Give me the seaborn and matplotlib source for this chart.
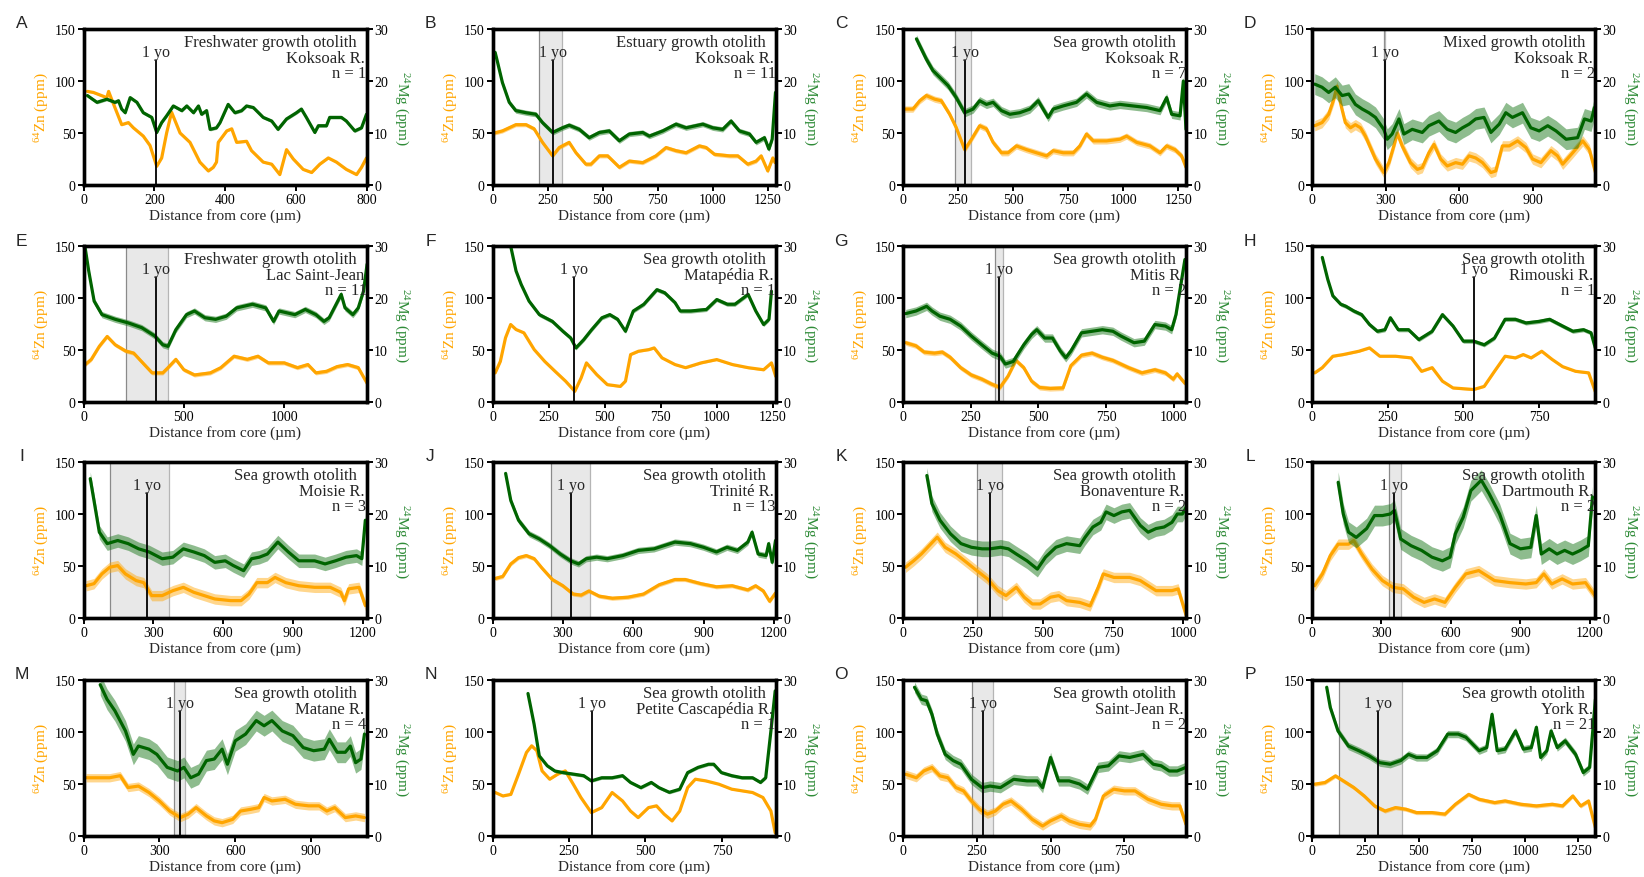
import matplotlib
matplotlib.use("Agg")
import matplotlib.pyplot as plt
import seaborn as sns

sns.set_theme(style="ticks")
plt.rcParams["font.family"] = ["Liberation Serif", "DejaVu Serif"]
plt.rcParams["mathtext.fontset"] = "custom"
plt.rcParams["mathtext.rm"] = "Liberation Serif"
plt.rcParams["mathtext.it"] = "Liberation Serif:italic"

# ---------------- data ----------------
A_zn_x = [11,28,66,71,80,94,108,127,141,169,188,207,221,235,249,273,301,329,353,367,376,381,405,419,433,461,475,508,532,555,574,593,621,645,668,692,715,743,772,786,800]
A_zn = [90,89,84,90,82,70,58,60,55,47,38,18,26,50,70,50,41,22,13.5,17,22,41,52,54,41,42,33,22,20,10,34,25,15,12,20,26,22,15,10,17,26]
A_mg_x = [11,38,66,89,99,108,118,132,151,169,193,207,221,235,254,278,292,311,325,334,348,358,376,386,409,428,447,461,480,508,532,550,574,602,616,630,654,664,687,696,729,743,767,786,800]
A_mg = [17.2,15.9,16.5,15.9,16.2,14.6,13.9,16.8,15.9,13.9,13.0,10.1,12.0,13.3,15.2,14.3,15.2,13.9,15.2,13.6,14.3,10.7,11.0,12.0,15.5,13.9,14.3,15.2,14.9,13.0,12.3,10.7,12.7,13.9,14.6,13.0,10.1,11.4,11.4,13.0,13.0,12.3,10.4,11.0,13.6]

B_zn_x = [8,45,106,152,189,227,273,303,348,379,424,447,485,523,576,621,682,742,788,833,879,939,970,1008,1076,1114,1159,1197,1220,1250,1273,1283]
B_zn = [50,52,58,58,54,41,28,36,41,31,20,20,28,28,17,23,21.5,28,36,33,31,37.6,36,29.5,28,28,20,23,28,13.5,26,21.5]
B_mg_x = [12,23,45,76,106,152,197,227,273,318,348,394,439,485,530,576,621,682,712,773,833,879,955,1000,1045,1083,1121,1167,1197,1235,1255,1270,1285]
B_mg = [25.5,23.6,19.7,15.9,14.3,13.9,13.6,12.0,10.1,11.0,11.5,10.7,9.1,10.1,10.4,8.5,9.8,10.1,9.4,10.4,11.7,11.0,11.7,11.0,10.7,12.3,10.4,9.8,8.2,9.1,6.9,8.8,17.8]

C_zn_x = [8,45,76,106,144,174,212,242,280,311,348,379,409,447,477,515,561,606,652,682,727,773,803,833,864,924,985,1015,1061,1121,1167,1197,1235,1265,1285]
C_zn = [73,73,81,86,82.5,81,68,55,34,44,57,54,41,31,31,37.6,34,31,28,33,31,31,37.6,49,42.4,42.4,44,47,41,37.6,31,37.6,34,28,17]
C_mg_x = [61,76,106,136,167,205,242,280,318,348,379,409,447,485,530,576,614,659,682,727,788,833,879,939,985,1045,1106,1167,1197,1220,1258,1273,1285]
C_mg = [28.1,26.8,24.2,22,20.7,19.1,16.8,13.9,14.6,16.2,15.5,15.9,14.3,13.6,13.9,14.6,16.2,13,14.6,15.2,15.9,17.5,15.9,15.2,15.5,15.2,14.9,14.3,16.8,13.6,13.3,20,10.7]

D_zn_x = [11,41,68,89,102,116,136,157,177,198,218,259,293,314,334,348,368,402,430,450,477,498,525,552,586,614,641,668,696,730,750,777,805,839,873,900,934,975,1002,1023,1064,1105,1132,1157]
D_zn = [57,60,68,82.5,95,79,60,55,58,55,47,25,12,21.5,37.6,50,37.6,21.5,15,16.7,31,39,25,18.3,21.5,20,28,26,21.5,12,13.5,37.6,37.6,42.4,36,25,21.5,33,28,20,31,42.4,34,12]
D_mg_x = [11,41,68,95,123,150,177,205,232,259,293,307,327,355,375,409,450,477,518,552,586,614,641,668,702,730,764,791,818,859,893,927,962,996,1037,1084,1112,1139,1153]
D_mg = [19.4,18.8,17.8,18.8,17.2,17.5,15.5,14.6,13.9,13,10.7,8.8,9.8,12.7,9.8,10.7,10.1,11.4,12.3,10.7,10.1,11,11.7,12.7,13,10.1,11.7,13.9,13,13.9,11,10.4,11.4,10.4,8.8,9.1,12.7,12.3,14.9]

E_zn_x = [8,39,79,118,158,210,250,303,342,395,421,460,500,553,632,684,750,816,869,921,1000,1066,1118,1158,1211,1263,1316,1369,1413]
E_zn = [36,41,53.6,63,55,49,47,36,28,28,33,41,31,26,28,33,44,41,44,37.6,37.6,33,36,28,29.5,34,36,33,18]
E_mg_x = [8,26,53,92,158,224,290,355,395,421,460,513,553,605,658,711,763,842,908,947,974,1053,1105,1158,1198,1224,1284,1303,1342,1369,1395,1413]
E_mg = [29.7,25.2,19.4,16.8,15.9,15.2,14.3,12.7,11,10.7,13.9,16.8,17.5,16.2,15.9,16.5,18.1,18.8,18.1,15.5,17.5,16.8,17.8,16.8,15.5,16.2,20.7,18.1,16.8,18.1,21.3,26.5]

F_zn_x = [12,35,58,81,105,140,186,233,279,326,367,395,419,465,512,570,593,616,651,698,721,756,814,861,930,1000,1070,1140,1209,1244,1263]
F_zn = [28,39,61.7,74.5,69.7,66.5,50.4,39,29.5,20,10.3,23,37.6,26.3,16.7,15,20,45.6,48.8,50.4,52,42.4,36,33,37.6,40.8,36,33,31,37.6,24.7]
F_mg_x = [75,81,105,128,163,209,267,314,349,372,407,442,488,523,558,593,628,675,733,768,814,837,884,954,1000,1047,1081,1140,1174,1209,1233,1244]
F_mg = [31,30,25.2,22.6,19.4,16.8,15.5,13.6,12.3,10.4,12,13.9,16.2,16.8,15.9,13.6,17.5,18.8,21.6,21,19.1,17.5,17.5,17.8,19.7,18.8,18.8,20.7,17.5,14.9,15.9,21.3]

G_zn_x = [10,48,78,116,145,174,213,252,291,329,358,388,417,446,475,504,543,591,620,659,698,736,775,833,882,930,969,998,1012,1041]
G_zn = [57,54,48,47,48,43,33,26,22,17,14,25,40,33,20,14,13,13.5,35,45,47,43,40,33,28,31,28,22,27,18]
G_mg_x = [10,48,87,107,136,174,213,252,291,329,358,378,407,446,475,494,523,552,581,601,620,659,698,736,775,804,853,891,930,969,992,1008,1041]
G_mg = [17,17.5,18.4,17.5,16.5,15.9,14.6,12.7,11,9.4,8.8,7.3,7.8,11,13,13.9,12.3,12.3,9.8,8.5,9.8,13.3,13.6,13.9,13.6,12.7,11.4,11.7,14.9,14.6,13.9,16.8,27.4]

H_zn_x = [9,34,69,103,155,190,224,276,328,362,397,431,466,534,569,603,638,672,698,724,759,793,828,871,914,936]
H_zn = [28,33,44,45.6,48.8,52,44,44,42.4,29.5,33,20,13.5,12,15,29.5,44,42.4,45.6,42.4,48.8,41,34,29.5,28,10]
H_mg_x = [34,52,69,95,112,138,164,190,216,241,259,285,319,353,397,431,466,500,534,569,603,638,672,707,750,785,828,862,897,922,936]
H_mg = [27.8,23.6,20.4,18.8,18.4,17.5,16.8,14.9,13.6,13.9,16.2,13.9,13.9,12,13.6,16.8,14.6,11.7,11.7,11,12.3,15.9,15.9,15.2,15.5,15.9,14.6,13.6,13.9,13.3,10.4]

I_zn_x = [11,45,79,113,147,180,226,259,293,338,384,429,474,519,564,632,677,711,745,790,823,869,925,993,1060,1105,1121,1139,1184,1211]
I_zn = [31,33,42.4,48.8,50.4,42.4,36,34,21.5,21.5,26.3,29.5,24.7,21.5,18.3,16.7,16.7,23,34,34,39,34,31,29.5,29.5,24.7,16.7,28,29.5,12]
I_mg_x = [29,45,68,102,147,192,237,282,338,384,429,474,519,564,609,643,688,722,756,790,835,880,925,993,1038,1083,1128,1173,1196,1211]
I_mg = [26.8,22.6,16.5,14.3,14.9,14.3,13.3,12.7,11.4,11.7,13.3,12.7,12,10.7,11,10.1,9.1,11.4,11.7,12.3,14.6,12.7,11,11,10.4,11,11.7,12,11.4,18.8]

J_zn_x = [11,44,78,111,144,178,211,255,300,344,378,411,455,511,578,644,711,778,822,889,955,1022,1089,1122,1155,1182,1207]
J_zn = [38,40,52,58,60,57,48,37,31,23,22,26,21,19,20,23,32,37,37,33,30,31,27,31,26,16,24]
J_mg_x = [56,78,111,156,200,244,289,333,367,400,444,489,555,622,689,778,844,900,955,1000,1044,1089,1107,1133,1167,1178,1193,1207]
J_mg = [27.8,22.6,18.8,16.2,15.2,13.9,12.3,11,10.4,11.4,11.7,11.4,12,13,13.3,14.6,14.3,13.6,12.7,13.6,13,14.6,16.5,12.3,12,14.3,10.7,14.9]

K_zn_x = [9,38,66,94,122,150,188,226,263,301,338,367,404,432,461,489,526,555,583,630,667,696,714,752,808,846,902,959,981,1010]
K_zn = [48.8,55,61.7,69.7,77.7,68,61.7,53.6,45.6,37.6,26.3,21.5,29.5,20,13.5,13.5,20,21.5,16.7,15,11.6,29.5,42.4,39,39,36,26.3,26.3,28,2]
K_mg_x = [85,103,132,169,207,244,282,310,348,376,404,442,479,508,545,583,630,649,677,705,724,752,780,808,846,874,902,931,959,978,996,1010]
K_mg = [27.4,22,18.8,16.2,14.3,13.6,13.3,13.3,13.6,13.3,12.3,11,9.4,11.7,13.6,14.3,13.9,15.5,17.5,18.4,20.4,19.7,20.4,20.7,17.8,16.5,17.2,17.5,18.4,20,20,21.3]

L_zn_x = [11,45,79,113,158,180,214,259,304,349,394,439,484,529,574,619,664,720,788,855,923,968,1001,1035,1080,1125,1181,1222]
L_zn = [31,42.4,60,71,71,74.5,61.7,47,36,29.5,28,20,15,18.3,15,29.5,42.4,45.6,36,34,32.7,34,42.4,32.7,37.6,32.7,34,21.5]
L_mg_x = [113,135,158,191,236,270,304,338,356,383,428,473,518,563,596,619,653,686,731,765,810,855,900,945,968,990,1024,1058,1091,1125,1159,1193,1211]
L_mg = [26.1,20,16.5,15.5,17.2,19.7,19.7,20,20.7,15.2,13.9,13,11.7,11,11.7,16.2,19.4,24.5,26.5,23.9,20,14.3,13.3,13.6,19.7,12.3,13.3,12.3,13,12.3,13,13.9,23.3]

M_zn_x = [10,62,103,145,176,217,259,300,341,383,414,445,486,517,548,590,621,662,693,714,745,797,838,890,931,962,993,1035,1076,1111]
M_zn = [56,56,56,58,46.6,48,41.8,33.7,24,17.7,21,27.3,19.3,14.5,12.8,16,24,25.7,27.3,37,33.7,35.3,30.5,29,29,24,27.3,17.7,19.3,17.7]
M_mg_x = [66,93,124,166,197,217,259,290,331,372,397,424,455,486,517,548,569,600,641,683,714,745,786,828,869,910,952,972,1003,1035,1055,1076,1097,1111]
M_mg = [29.1,26.3,24.1,20.2,15.7,17.3,16.7,15.7,13.2,12.5,13.2,11.2,11.9,14.5,14.8,16.7,13.8,18.3,19.6,22.2,21.2,22.2,20.2,19.3,17,16.4,16.7,18.6,16.1,16.1,17.3,14.1,14.8,19.6]

N_zn_x = [9,34,60,85,111,128,145,162,187,213,238,264,289,323,357,391,425,451,476,510,536,561,587,612,638,663,697,740,782,816,850,884,910,924]
N_zn = [41.8,38.5,40,59.4,80.3,86.7,82,62.6,54.6,59.4,62.6,49.8,37,22.5,27.3,41.8,33.7,24,17.7,27.3,29,21,14.5,24,46.6,54.6,53,49.8,45,43.4,41.8,37,24,3]
N_mg_x = [116,136,153,179,204,230,264,298,323,357,391,425,451,485,519,544,578,612,638,672,706,723,748,782,816,850,876,893,910,924]
N_mg = [27.4,21.5,15.4,13.5,12.5,12.2,11.9,11.6,10.6,11.2,11.2,11.6,10.3,9.3,10.3,9.3,8.4,9,12.2,13.2,13.8,13.8,12.2,11.6,11.2,11.2,10.3,11.2,20.2,27.9]

O_zn_x = [9,45,71,98,125,152,179,205,232,259,286,313,339,366,402,438,473,500,536,563,598,634,652,679,714,750,786,830,875,911,938,959]
O_zn = [59.4,56,62.6,65.8,57.8,56,46.6,43.4,33.7,25.7,21,24,30.5,33.7,25.7,16,9.6,14.5,19.3,14.5,11.2,9.6,16,38.5,45,43.4,43.4,35.3,30.5,29,29,11.2]
O_mg_x = [39,62,80,98,116,143,170,196,232,268,295,330,375,420,455,473,500,527,563,598,625,661,696,732,768,813,848,875,902,929,959]
O_mg = [28.6,26.3,26,23.4,19.6,15.7,14.5,13.8,10.9,9.3,9.6,9.3,10.9,10.6,10.6,9.3,15.1,10.6,10.6,10,9,13.2,13.5,15.4,15.1,15.7,13.8,13.5,12.5,12.5,13.2]

P_zn_x = [12,61,110,147,196,245,294,343,392,441,490,563,624,673,735,784,857,906,980,1053,1127,1176,1224,1261,1298,1330]
P_zn = [49.8,51.4,57.8,53,46.6,38.5,28.9,24,27.3,25.7,22.5,22.5,21,30.5,40,35.3,32.1,33.7,30.5,28.9,30.5,28.9,38.5,28.9,33.7,8]
P_mg_x = [69,86,122,171,220,269,318,367,416,453,490,539,588,637,686,722,784,820,845,869,906,955,992,1029,1053,1073,1102,1122,1151,1188,1237,1273,1303,1330]
P_mg = [28.6,24.7,20.2,17.3,16.4,15.4,14.1,13.8,14.5,15.7,15.1,15.1,16.4,19.6,19.6,19,16.4,17,23.4,16.4,16.7,20.2,16.7,17,20.9,15.1,16.4,20.2,17,18.3,15.7,12.2,13.2,26.3]

LETTERS = list("ABCDEFGHIJKLMNOP")
XMAX = [800, 1285, 1285, 1155, 1410, 1262, 1045, 935, 1216, 1207, 1009, 1222, 1119, 925, 959, 1328]
XSTEP = [200, 250, 250, 300, 500, 250, 250, 250, 300, 300, 250, 300, 300, 250, 250, 250]
YO_POS = [204, 273, 280, 296, 360, 365, 355, 534, 271, 333, 310, 356, 381, 326, 271, 310]
SHADE_LO = [None, 212, 235, 292, 210, None, 339, None, 113, 251, 263, 331, 358, None, 234, 127]
SHADE_HI = [None, 314, 308, 298, 421, None, 368, None, 368, 415, 353, 383, 403, None, 304, 423]
GROWTH = ["Freshwater growth otolith", "Estuary growth otolith", "Sea growth otolith",
          "Mixed growth otolith", "Freshwater growth otolith"] + ["Sea growth otolith"] * 11
RIVER = ["Koksoak R.", "Koksoak R.", "Koksoak R.", "Koksoak R.", "Lac Saint-Jean",
         "Matapédia R.", "Mitis R.", "Rimouski R.", "Moisie R.", "Trinité R.",
         "Bonaventure R.", "Dartmouth R.", "Matane R.", "Petite Cascapédia R.",
         "Saint-Jean R.", "York R."]
N_FISH = [1, 11, 7, 2, 11, 1, 2, 1, 3, 13, 2, 2, 4, 1, 2, 21]
ZN_BAND = [1.0, 2.0, 3.0, 5.0, 2.0, 1.0, 2.5, 1.0, 5.0, 2.0, 5.0, 5.0, 4.0, 0.8, 4.0, 2.0]
MG_BAND = [0.3, 0.5, 0.8, 2.0, 0.6, 0.4, 0.8, 0.4, 1.3, 0.6, 1.5, 2.0, 2.0, 0.3, 1.0, 0.7]

SERIES = {
    "A": (A_zn_x, A_zn, A_mg_x, A_mg), "B": (B_zn_x, B_zn, B_mg_x, B_mg),
    "C": (C_zn_x, C_zn, C_mg_x, C_mg), "D": (D_zn_x, D_zn, D_mg_x, D_mg),
    "E": (E_zn_x, E_zn, E_mg_x, E_mg), "F": (F_zn_x, F_zn, F_mg_x, F_mg),
    "G": (G_zn_x, G_zn, G_mg_x, G_mg), "H": (H_zn_x, H_zn, H_mg_x, H_mg),
    "I": (I_zn_x, I_zn, I_mg_x, I_mg), "J": (J_zn_x, J_zn, J_mg_x, J_mg),
    "K": (K_zn_x, K_zn, K_mg_x, K_mg), "L": (L_zn_x, L_zn, L_mg_x, L_mg),
    "M": (M_zn_x, M_zn, M_mg_x, M_mg), "N": (N_zn_x, N_zn, N_mg_x, N_mg),
    "O": (O_zn_x, O_zn, O_mg_x, O_mg), "P": (P_zn_x, P_zn, P_mg_x, P_mg),
}

ZN_COLOR = "#FFA500"
MG_COLOR = "#006400"
MG_LABEL = "#2E8B37"

# ---------------- layout ----------------
FW, FH = 1644, 878
fig = plt.figure(figsize=(FW / 100, FH / 100), dpi=100)
LEFTS = [83.5, 492.5, 903, 1312]
TOPS = [30, 247, 463, 681]
AW, AH = 283, 156


def pt(px):
    return px * 72 / 100


for i, letter in enumerate(LETTERS):
    r, c = divmod(i, 4)
    l, t = LEFTS[c], TOPS[r]
    ax = fig.add_axes([l / FW, 1 - (t + AH) / FH, AW / FW, AH / FH])
    ax2 = ax.twinx()
    zx, zy, mx, my = SERIES[letter]
    n1 = min(len(zx), len(zy))
    zx, zy = zx[:n1], zy[:n1]
    n2 = min(len(mx), len(my))
    mx, my = mx[:n2], my[:n2]

    # first-year shaded window
    if SHADE_LO[i] is not None:
        ax.axvspan(SHADE_LO[i], SHADE_HI[i], color="#e8e8e8", zorder=0, lw=0)
        ax.axvline(SHADE_LO[i], color="#8a8a8a", lw=0.9, zorder=0.5)
        ax.axvline(SHADE_HI[i], color="#b5b5b5", lw=0.9, zorder=0.5)

    # Zn
    wz = ZN_BAND[i]
    ax.fill_between(zx, [v - wz for v in zy], [v + wz for v in zy],
                    color=ZN_COLOR, alpha=0.45, lw=0, zorder=1)
    sns.lineplot(x=zx, y=zy, ax=ax, color=ZN_COLOR, linewidth=2.3,
                 estimator=None, sort=False, zorder=2)

    # Mg
    wm = MG_BAND[i]
    ax2.fill_between(mx, [v - wm for v in my], [v + wm for v in my],
                     color="#1f7a1f", alpha=0.5, lw=0, zorder=1)
    sns.lineplot(x=mx, y=my, ax=ax2, color=MG_COLOR, linewidth=2.3,
                 estimator=None, sort=False, zorder=2)

    # 1 yo marker (drawn up to 120 ppm Zn == 24 ppm on the Mg axis)
    ax2.plot([YO_POS[i], YO_POS[i]], [0, 24], color="black", lw=1.3, zorder=3)
    ax2.text(YO_POS[i], 24.8, "1 yo", ha="center", va="baseline", fontsize=11.5, zorder=4)

    # annotation
    for txt, dx, dy in ((GROWTH[i], -10, -17), (RIVER[i], -2, -32.6),
                        ("n = %d" % N_FISH[i], 0, -48)):
        ax2.annotate(txt, xy=(1, 1), xycoords="axes fraction",
                     xytext=(pt(dx), pt(dy)), textcoords="offset points",
                     ha="right", va="baseline", fontsize=12, zorder=5)

    ax.set_xlim(0, XMAX[i])
    ax.set_ylim(0, 150)
    ax2.set_ylim(0, 30)
    ax.set_xticks(list(range(0, XMAX[i] + 1, XSTEP[i])))
    ax.set_yticks([0, 50, 100, 150])
    ax2.set_yticks([0, 10, 20, 30])

    ax.set_xlabel("Distance from core (µm)", fontsize=11, labelpad=1.5)
    ax.set_ylabel(r"$^{64}$Zn (ppm)", color=ZN_COLOR, fontsize=11, labelpad=3)
    ax2.set_ylabel(r"$^{24}$Mg (ppm)", color=MG_LABEL, fontsize=11,
                   rotation=270, va="bottom", labelpad=3)

    for a in (ax, ax2):
        for s in a.spines.values():
            s.set_linewidth(2.4)
            s.set_color("black")
        a.tick_params(direction="out", length=4, width=1.4, labelsize=10,
                      pad=1.5, colors="black")
    ax.set_zorder(1)
    ax2.set_zorder(2)
    ax2.patch.set_visible(False)

    fig.text((l - 62) / FW, 1 - (t - 6) / FH, letter, family="Liberation Sans",
             fontsize=12.5, ha="center", va="center")

fig.savefig("out.png", dpi=100)
